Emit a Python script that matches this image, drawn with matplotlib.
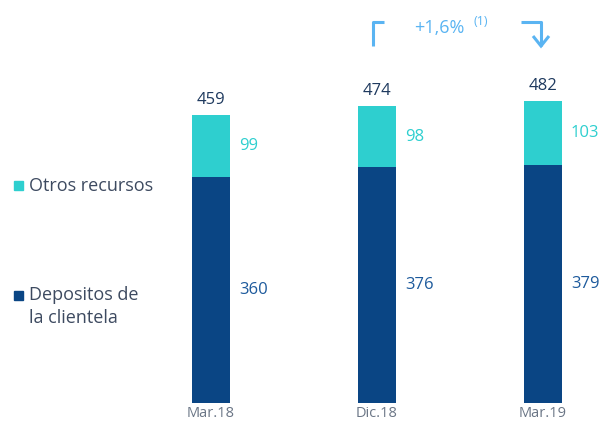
import matplotlib
matplotlib.use("Agg")
import matplotlib.pyplot as plt
from matplotlib.patches import Rectangle
from matplotlib.lines import Line2D

categories = ["Mar.18", "Dic.18", "Mar.19"]
depositos = [360, 376, 379]
otros = [99, 98, 103]
totals = [459, 474, 482]

C_DEP = "#0a4584"
C_OTR = "#2ecfcf"
C_TXT = "#1f3a5f"
C_LEG = "#3d4a60"
C_ARR = "#5ab4f2"
plt.rcParams['font.family'] = ['Open Sans', 'DejaVu Sans']

W, H = 603, 425
fig = plt.figure(figsize=(W / 100, H / 100), dpi=100)

scale = 0.627  # px per unit
x0_px, spacing = 211, 166
left_px = x0_px - 0.5 * spacing
right_px = W - 2
ax = fig.add_axes([left_px / W, 22 / H, (right_px - left_px) / W, 403 / H])
ax.set_xlim(-0.5, -0.5 + (right_px - left_px) / spacing)
ax.set_ylim(0, 403 / scale)
ax.axis("off")

xs = list(range(len(categories)))
bw = 38 / spacing
ax.bar(xs, depositos, width=bw, color=C_DEP)
ax.bar(xs, otros, width=bw, bottom=depositos, color=C_OTR)

off = 9 / spacing
for x, d, o, t, c in zip(xs, depositos, otros, totals, categories):
    ax.text(x, t + 11, str(t), ha="center", va="bottom", fontsize=12, color=C_TXT)
    ax.text(x + bw / 2 + off, d + o / 2, str(o), ha="left", va="center", fontsize=12, color=C_OTR)
    ax.text(x + bw / 2 + off, d / 2, str(d), ha="left", va="center", fontsize=12, color="#1d5a9c")
    ax.text(x, -5, c, ha="center", va="top", fontsize=10.5, color="#6b7686")

ov = fig.add_axes([0, 0, 1, 1])
ov.set_xlim(0, W)
ov.set_ylim(H, 0)
ov.axis("off")

# legend
ov.add_patch(Rectangle((14, 181), 9, 9, color=C_OTR))
ov.text(29, 186, "Otros recursos", fontsize=13, color=C_LEG, va="center", ha="left")
ov.add_patch(Rectangle((14, 291), 9, 9, color=C_DEP))
ov.text(29, 295, "Depositos de", fontsize=13, color=C_LEG, va="center", ha="left")
ov.text(29, 318, "la clientela", fontsize=13, color=C_LEG, va="center", ha="left")

# growth annotation
ov.add_line(Line2D([373, 373, 384], [46, 22, 22], color=C_ARR, lw=2.2, solid_capstyle="butt"))
ov.text(414, 28, "+1,6%", fontsize=13, color=C_ARR, va="center", ha="left")
ov.text(473, 21, "(1)", fontsize=9, color=C_ARR, va="center", ha="left")
ov.add_line(Line2D([521, 541, 541], [22, 22, 46], color=C_ARR, lw=2.2, solid_capstyle="butt"))
ov.add_line(Line2D([533, 541, 549], [36, 46, 36], color=C_ARR, lw=2.2,
                   solid_joinstyle="miter", solid_capstyle="butt"))

fig.savefig("out.png", dpi=100)
